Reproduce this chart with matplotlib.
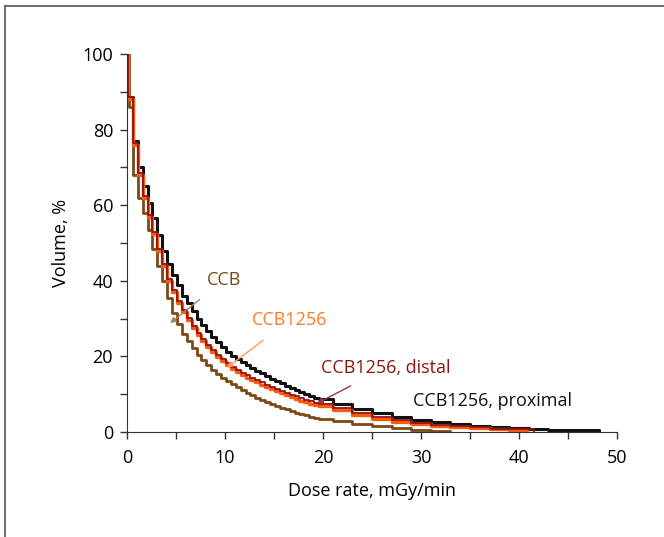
import matplotlib
matplotlib.use('Agg')
import matplotlib.pyplot as plt
from matplotlib.lines import Line2D

plt.rcParams['font.family'] = ['Open Sans', 'DejaVu Sans']

# dose-volume histograms (steps-post: y holds from x[i] to x[i+1])
x_grid = [0, 0.1, 0.6, 1.1, 1.6, 2.1, 2.6, 3.1, 3.6, 4.1, 4.6, 5.1, 5.6, 6.1, 6.6, 7.1, 7.6, 8.1, 8.6,
          9.1, 9.6, 10.1, 10.6, 11.1, 11.6, 12.1, 12.6, 13.1, 13.6, 14.1, 14.6, 15.1, 15.6, 16.1,
          16.6, 17.1, 17.6, 18.1, 18.6, 19.1, 19.6, 21, 23, 25, 27, 29, 31, 33, 35, 37, 39]

x_proximal = x_grid + [41, 43, 45, 47, 48.2]
y_proximal = [100, 88.5, 77, 70, 65, 60.5, 56.5, 52, 48, 44.5, 41.5, 39, 36, 34, 32, 30, 28.3, 26.7, 25.2,
              23.8, 22.4, 21.2, 20.2, 19.3, 18.5, 17.7, 16.9, 16.2, 15.5, 14.8, 14.1, 13.5, 12.9, 12.3,
              11.7, 11.1, 10.5, 10.0, 9.5, 9.0, 8.6, 7.5, 6.2, 5.0, 4.0, 3.1, 2.6, 2.1, 1.7, 1.3, 1.0,
              0.8, 0.6, 0.5, 0.4, 0]

x_1256 = x_grid + [40.8]
y_1256 = [100, 88, 76, 68, 62, 57, 52.5, 48, 44, 40, 37, 34, 31.8, 29.5, 27.5, 25.6, 24, 22.5, 21.1,
          19.9, 18.7, 17.6, 16.7, 15.9, 15.1, 14.4, 13.7, 13.1, 12.5, 11.9, 11.3, 10.8, 10.3, 9.8,
          9.3, 8.8, 8.3, 7.9, 7.5, 7.1, 6.8, 5.8, 4.5, 3.5, 2.7, 2.1, 1.7, 1.3, 1.0, 0.8, 0.5, 0]

x_distal = x_grid + [41.5]
y_distal = [100, 88.5, 76.5, 68.5, 62.5, 57.5, 53, 48.5, 44.5, 40.6, 37.6, 34.6, 32.4, 30.1, 28.1, 26.2, 24.6,
            23.1, 21.7, 20.5, 19.3, 18.2, 17.3, 16.5, 15.7, 15.0, 14.3, 13.7, 13.1, 12.5, 11.9, 11.4,
            10.9, 10.4, 9.9, 9.4, 8.9, 8.5, 8.1, 7.7, 7.3, 6.3, 5.0, 3.9, 3.1, 2.4, 1.9, 1.5, 1.2, 0.9,
            0.7, 0]

x_ccb = [0, 0.25] + x_grid[2:48]
y_ccb = [100, 86, 68, 62, 58, 53.5, 48.5, 44, 40, 35.5, 31.5, 28.5, 26, 24, 22.2, 20.5, 19, 17.6, 16.4,
         15.3, 14.3, 13.4, 12.6, 11.8, 11.1, 10.4, 9.7, 9.1, 8.5, 7.9, 7.4, 6.9, 6.4, 6.0, 5.5, 5.1,
         4.7, 4.4, 4.1, 3.8, 3.5, 2.9, 2.2, 1.6, 1.0, 0.6, 0.3, 0]

c_black = '#111111'
c_orange = '#ff5a0a'
c_red = '#8c1414'
c_brown = '#7a4a16'

fig = plt.figure(figsize=(6.64, 5.37), dpi=100)
ax = fig.add_axes([127/664, 1 - 432/537, 490/664, 378/537])

ax.plot(x_proximal, y_proximal, drawstyle='steps-post', color=c_black, lw=2.2)
ax.plot(x_ccb, y_ccb, drawstyle='steps-post', color=c_brown, lw=2.0)
ax.plot(x_1256, y_1256, drawstyle='steps-post', color=c_orange, lw=2.4)
ax.plot(x_distal, y_distal, drawstyle='steps-post', color=c_red, lw=1.3)

ax.set_xlim(0, 50)
ax.set_ylim(0, 100)
ax.set_xticks(range(0, 51, 10))
ax.set_xticks(range(5, 50, 10), minor=True)
ax.set_yticks(range(0, 101, 20))
ax.set_yticks(range(10, 100, 20), minor=True)
ax.tick_params(which='both', direction='out', length=5, width=1, color='#333333',
               labelsize=13, pad=5)
ax.tick_params(axis='x', which='both', pad=7)
for s in ['top', 'right']:
    ax.spines[s].set_visible(False)
for s in ['left', 'bottom']:
    ax.spines[s].set_color('#333333')

ax.set_xlabel('Dose rate, mGy/min', fontsize=13, labelpad=11)
ax.set_ylabel('Volume, %', fontsize=13, labelpad=9)

# annotations
ax.annotate('CCB', xy=(4.4, 28.8), xytext=(9.9, 40.2), color=c_brown, fontsize=13,
            ha='center', va='center',
            arrowprops=dict(arrowstyle='-|>', color='#a08462', lw=1, mutation_scale=8,
                            shrinkA=9, shrinkB=0))
ax.annotate('CCB1256', xy=(10.2, 17), xytext=(16.6, 29.6), color='#ff7a2a', fontsize=13,
            ha='center', va='center',
            arrowprops=dict(arrowstyle='-|>', color='#ff9a5a', lw=1, mutation_scale=8,
                            shrinkA=10, shrinkB=0))
ax.annotate('CCB1256, distal', xy=(19.4, 7.6), xytext=(26.4, 17.0), color=c_red, fontsize=13,
            ha='center', va='center',
            arrowprops=dict(arrowstyle='-|>', color='#9a3a3a', lw=1, mutation_scale=8,
                            shrinkA=10, shrinkB=0))
ax.text(37.3, 8.3, 'CCB1256, proximal', color=c_black, fontsize=13, ha='center', va='center')

# outer frame (left and top edges)
fig.add_artist(Line2D([5/664, 5/664], [0, 1 - 6/537], color='#555555', lw=1.2))
fig.add_artist(Line2D([5/664, 1], [1 - 6/537, 1 - 6/537], color='#555555', lw=1.2))

fig.savefig('out.png', dpi=100)
